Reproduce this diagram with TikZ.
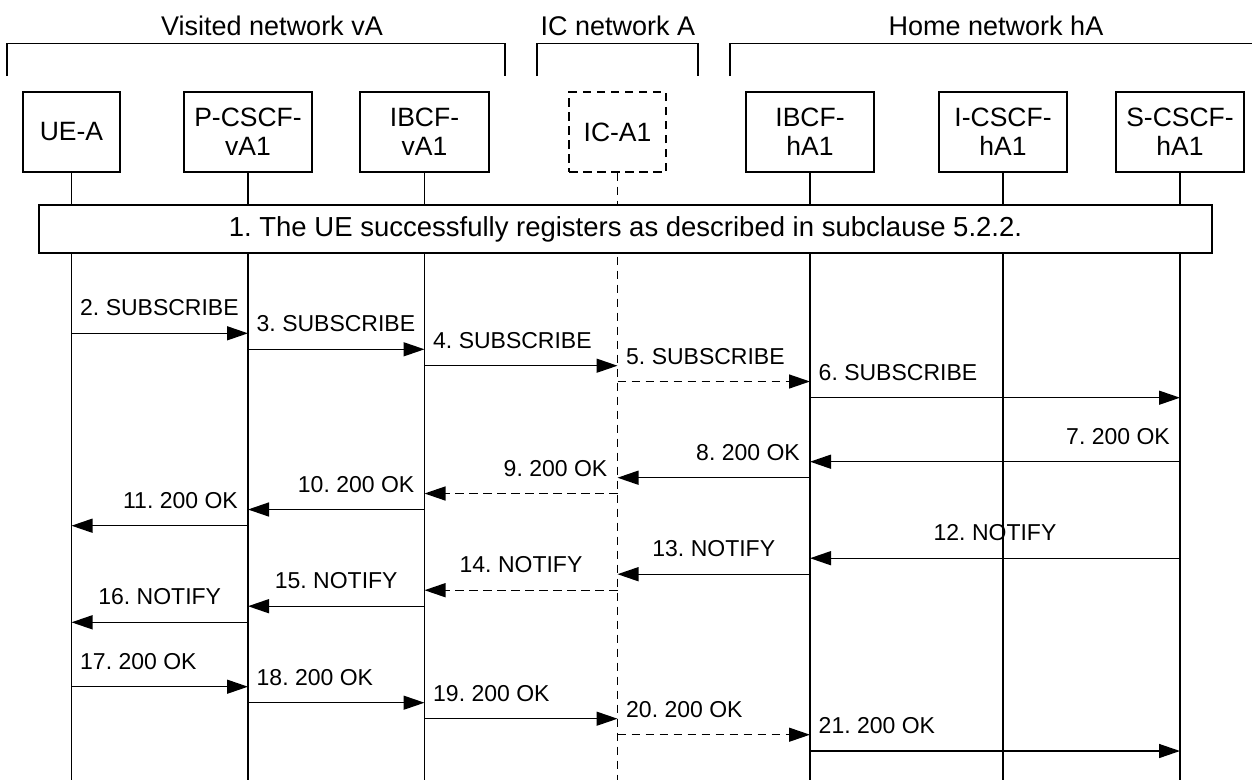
\documentclass[tikz,border=0pt]{standalone}
\usepackage{fontspec}
\setmainfont{Liberation Sans}
\usetikzlibrary{arrows.meta}
\frenchspacing
\begin{document}
\begin{tikzpicture}[x=1pt,y=-1pt,line width=1.4pt,
  ent/.style={draw,minimum height=80pt,align=center,inner sep=0pt,
    font=\fontsize{26.5}{29}\selectfont},
  hdr/.style={anchor=base,font=\fontsize{27}{30}\selectfont},
  msgline/.style={-{Triangle[length=21pt,width=14pt]}},
  dsh/.style={dash pattern=on 8.5pt off 5.5pt},
  lbl/.style={font=\fontsize{23}{27}\selectfont,inner sep=0pt},
  lblr/.style={lbl,pos=0,anchor=base west,xshift=8pt,yshift=17.5pt},
  lbll/.style={lbl,pos=0,anchor=base east,xshift=-9.5pt,yshift=17.5pt},
  lblc/.style={lbl,midway,anchor=base,yshift=17.5pt}]
\useasboundingbox (0,0) rectangle (1252,780);

% network headers
\node[hdr] (hv) at (272,35) {Visited network vA};
\node[hdr] (hi) at (618,35) {IC network A};
\node[hdr] (hh) at (996,35) {Home network hA};
\draw (7,76) -- (7,43.7) -- (505,43.7) -- (505,76);
\draw (537,76) -- (537,43.7) -- (698,43.7) -- (698,76);
\draw (730,76) -- (730,43.7) -- (1252,43.7);

% entities
\node[ent,minimum width=97pt] (ue) at (71.5,132) {UE-A};
\node[ent,minimum width=128pt] (pc) at (248,132) {P-CSCF-\\vA1};
\node[ent,minimum width=129pt] (ibv) at (424.5,132) {IBCF-\\vA1};
\node[ent,minimum width=97pt,dsh] (ic) at (617.5,132) {IC-A1};
\node[ent,minimum width=128pt] (ibh) at (810,132) {IBCF-\\hA1};
\node[ent,minimum width=128pt] (icscf) at (1003,132) {I-CSCF-\\hA1};
\node[ent,minimum width=128pt] (sc) at (1180,132) {S-CSCF-\\hA1};

% lifelines
\foreach \n in {ue,pc,ibv,ibh,icscf,sc}
  \draw (\n.south) -- (\n.south |- 0,780);
\draw[dsh] (ic.south) -- (ic.south |- 0,780);

% step 1
\node[draw,fill=white,minimum width=1173pt,minimum height=48pt,inner sep=0pt,
  font=\fontsize{27.5}{30}\selectfont] (s1) at (625.5,229)
  {1. The UE successfully registers as described in subclause 5.2.2.};

% messages
\draw[msgline] (ue |- 0,333.3) -- (pc |- 0,333.3) node[lblr] (l2) {2. SUBSCRIBE};
\draw[msgline] (pc |- 0,349.3) -- (ibv |- 0,349.3) node[lblr] (l3) {3. SUBSCRIBE};
\draw[msgline] (ibv |- 0,365.7) -- (ic |- 0,365.7) node[lblr] (l4) {4. SUBSCRIBE};
\draw[msgline,dsh] (ic |- 0,381.5) -- (ibh |- 0,381.5) node[lblr] (l5) {5. SUBSCRIBE};
\draw[msgline] (ibh |- 0,397.7) -- (sc |- 0,397.7) node[lblr] (l6) {6. SUBSCRIBE};

\draw[msgline] (sc |- 0,461.7) -- (ibh |- 0,461.7) node[lbll] (l7) {7. 200 OK};
\draw[msgline] (ibh |- 0,477.7) -- (ic |- 0,477.7) node[lbll] (l8) {8. 200 OK};
\draw[msgline,dsh] (ic |- 0,493.5) -- (ibv |- 0,493.5) node[lbll] (l9) {9. 200 OK};
\draw[msgline] (ibv |- 0,509.5) -- (pc |- 0,509.5) node[lbll] (l10) {10. 200 OK};
\draw[msgline] (pc |- 0,525.7) -- (ue |- 0,525.7) node[lbll] (l11) {11. 200 OK};

\draw[msgline] (sc |- 0,558.2) -- (ibh |- 0,558.2) node[lblc] (l12) {12. NOTIFY};
\draw[msgline] (ibh |- 0,574.2) -- (ic |- 0,574.2) node[lblc] (l13) {13. NOTIFY};
\draw[msgline,dsh] (ic |- 0,590.2) -- (ibv |- 0,590.2) node[lblc] (l14) {14. NOTIFY};
\draw[msgline] (ibv |- 0,606.2) -- (pc |- 0,606.2) node[lblc] (l15) {15. NOTIFY};
\draw[msgline] (pc |- 0,622.3) -- (ue |- 0,622.3) node[lblc] (l16) {16. NOTIFY};

\draw[msgline] (ue |- 0,686.7) -- (pc |- 0,686.7) node[lblr] (l17) {17. 200 OK};
\draw[msgline] (pc |- 0,702.7) -- (ibv |- 0,702.7) node[lblr] (l18) {18. 200 OK};
\draw[msgline] (ibv |- 0,718.7) -- (ic |- 0,718.7) node[lblr] (l19) {19. 200 OK};
\draw[msgline,dsh] (ic |- 0,734.7) -- (ibh |- 0,734.7) node[lblr] (l20) {20. 200 OK};
\draw[msgline] (ibh |- 0,751) -- (sc |- 0,751) node[lblr] (l21) {21. 200 OK};
\end{tikzpicture}
\end{document}
